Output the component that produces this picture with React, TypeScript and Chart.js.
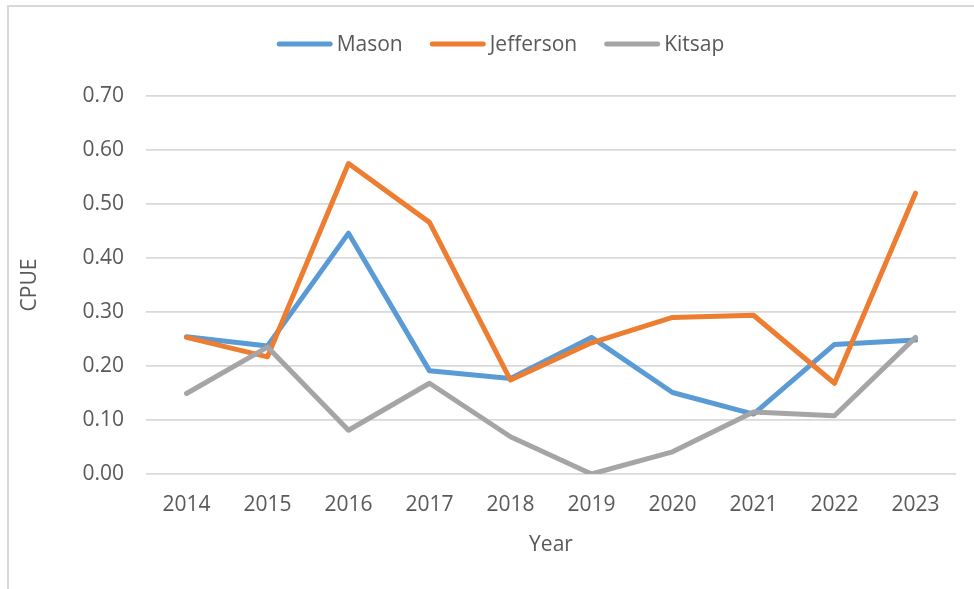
import React, { useEffect, useRef } from "react";
import { Chart, registerables } from "chart.js";

Chart.register(...registerables);

const years = ["2014", "2015", "2016", "2017", "2018", "2019", "2020", "2021", "2022", "2023"];
const mason = [0.254, 0.237, 0.446, 0.191, 0.177, 0.253, 0.151, 0.111, 0.24, 0.248];
const jefferson = [0.253, 0.217, 0.575, 0.466, 0.174, 0.243, 0.29, 0.294, 0.168, 0.52];
const kitsap = [0.149, 0.235, 0.081, 0.168, 0.069, 0.0, 0.041, 0.115, 0.108, 0.253];
const seriesNames = ["Mason", "Jefferson", "Kitsap"];
const seriesColors = ["#5B9BD5", "#ED7D31", "#A5A5A5"];
const yMin = 0;
const yMax = 0.7;
const yStep = 0.1;
const xTitle = "Year";
const yTitle = "CPUE";

const FONT = "'Open Sans', 'Noto Sans', sans-serif";
const TEXT = "#595959";

const legendPlugin = {
  id: "customLegend",
  afterDraw(chart: any) {
    const ctx = chart.ctx;
    const ds = chart.data.datasets;
    const fontSize = 21;
    const swatch = 56;
    const gap = 4;
    const spacing = 27;
    ctx.save();
    ctx.font = `${fontSize}px ${FONT}`;
    const widths = ds.map((d: any) => swatch + gap + ctx.measureText(d.label).width);
    const total = widths.reduce((a: number, b: number) => a + b, 0) + spacing * (ds.length - 1);
    let x = 500.5 - total / 2;
    const y = 44;
    ds.forEach((d: any, i: number) => {
      ctx.strokeStyle = d.borderColor;
      ctx.lineWidth = 5;
      ctx.lineCap = "round";
      ctx.beginPath();
      ctx.moveTo(x + 2.5, y);
      ctx.lineTo(x + swatch - 2.5, y);
      ctx.stroke();
      ctx.fillStyle = TEXT;
      ctx.textBaseline = "middle";
      ctx.textAlign = "left";
      ctx.fillText(d.label, x + swatch + gap, y + 1);
      x += widths[i] + spacing;
    });
    ctx.restore();
  },
};

export default function App() {
  const ref = useRef<HTMLCanvasElement | null>(null);

  useEffect(() => {
    if (!ref.current) return;
    const seriesData = [mason, jefferson, kitsap];
    const chart = new Chart(ref.current, {
      type: "line",
      data: {
        labels: years,
        datasets: seriesNames.map((name, i) => ({
          label: name,
          data: seriesData[i],
          borderColor: seriesColors[i],
          backgroundColor: seriesColors[i],
          borderWidth: 5,
          borderJoinStyle: "round" as const,
          borderCapStyle: "round" as const,
          pointRadius: 0,
          pointHoverRadius: 0,
          tension: 0,
          fill: false,
          order: 2 - i,
        })),
      },
      options: {
        responsive: false,
        animation: false,
        layout: { padding: { left: 10, right: 18, top: 96, bottom: 0 } },
        plugins: {
          legend: { display: false },
          tooltip: { enabled: false },
        },
        scales: {
          x: {
            offset: true,
            grid: { display: false, drawTicks: false },
            border: { display: false },
            ticks: {
              color: TEXT,
              font: { family: FONT, size: 21 },
              padding: 18,
              maxRotation: 0,
              autoSkip: false,
            },
            title: {
              display: true,
              text: xTitle,
              color: TEXT,
              font: { family: FONT, size: 21 },
              padding: { top: 0, bottom: 31 },
            },
            afterFit: (scale: any) => {
              scale.height = 115;
            },
          },
          y: {
            min: yMin,
            max: yMax,
            grid: { color: "#d9d9d9", lineWidth: 1.75, drawTicks: false },
            border: { display: false },
            ticks: {
              stepSize: yStep,
              color: TEXT,
              font: { family: FONT, size: 21 },
              padding: 22,
              callback: (v: any) => Number(v).toFixed(2),
            },
            title: {
              display: true,
              text: yTitle,
              color: TEXT,
              font: { family: FONT, size: 21 },
              padding: { top: 7, bottom: 0 },
            },
            afterFit: (scale: any) => {
              scale.width = 136;
            },
          },
        },
      },
      plugins: [legendPlugin],
    });
    return () => chart.destroy();
  }, []);

  return (
    <div style={{ position: "absolute", left: 0, top: 0, width: 974, height: 589, background: "#fff", overflow: "hidden" }}>
      <div
        style={{
          position: "absolute",
          left: 7,
          top: 5,
          width: 980,
          height: 600,
          borderTop: "2px solid #d9d9d9",
          borderLeft: "2px solid #d9d9d9",
        }}
      />
      <canvas ref={ref} width={974} height={589} style={{ position: "absolute", left: 0, top: 0, width: 974, height: 589 }} />
    </div>
  );
}
